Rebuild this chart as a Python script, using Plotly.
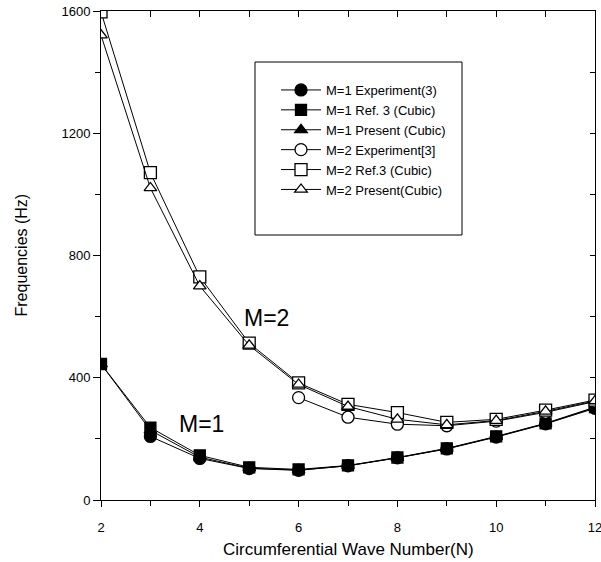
import plotly.graph_objects as go

# Circumferential wave numbers
n_all = [2, 3, 4, 5, 6, 7, 8, 9, 10, 11, 12]
n_m1_exp = [3, 4, 5, 6, 7, 8, 9, 10, 11, 12]
n_m2_exp = [6, 7, 8, 9, 10, 11, 12]

# Natural frequencies (Hz)
m1_experiment = [208, 136, 103, 97, 112, 138, 167, 206, 249, 300]
m1_ref3 = [445, 237, 146, 107, 100, 113, 139, 169, 208, 251, 304]
m1_present = [445, 228, 140, 104, 98, 112, 138, 168, 207, 250, 302]

m2_experiment = [335, 271, 248, 243, 258, 287, 322]
m2_ref3 = [1597, 1071, 730, 513, 383, 313, 286, 254, 264, 294, 327]
m2_present = [1521, 1021, 700, 506, 378, 306, 264, 246, 260, 290, 324]

legend_names = [
    "M=1 Experiment(3)",
    "M=1 Ref. 3 (Cubic)",
    "M=1 Present (Cubic)",
    "M=2 Experiment[3]",
    "M=2 Ref.3 (Cubic)",
    "M=2 Present(Cubic)",
]

series = [
    (n_m1_exp, m1_experiment, "circle", 12),
    (n_all, m1_ref3, "square", 11),
    (n_all, m1_present, "triangle-up", 11),
    (n_m2_exp, m2_experiment, "circle", 12),
    (n_all, m2_ref3, "square", 12),
    (n_all, m2_present, "triangle-up", 11),
]

fig = go.Figure()
for i, (name, (xs, ys, sym, size)) in enumerate(zip(legend_names, series)):
    filled = i < 3
    fig.add_trace(go.Scatter(
        x=xs, y=ys, name=name, mode="lines+markers",
        line=dict(color="black", width=1),
        marker=dict(
            symbol=sym, size=size,
            color="black" if filled else "white",
            line=dict(color="black", width=1.3),
        ),
    ))

font_family = "Liberation Sans, Arial, sans-serif"

W, H = 601, 562
ML, MR, MT, MB = 101, 6, 11, 62
PW, PH = W - ML - MR, H - MT - MB


def px_x(p):
    return (p - ML) / PW


def px_y(p):
    return (H - MB - p) / PH


frame = dict(showline=True, linecolor="black", linewidth=1,
             showgrid=False, zeroline=False, automargin=False)

fig.update_layout(
    width=W, height=H,
    margin=dict(l=ML, r=MR, t=MT, b=MB, autoexpand=False),
    paper_bgcolor="white", plot_bgcolor="white",
    font=dict(family=font_family, color="black", size=12),
    showlegend=True,
    legend=dict(
        x=px_x(276), y=px_y(75), xanchor="left", yanchor="top",
        borderwidth=0, bgcolor="rgba(0,0,0,0)",
        font=dict(size=13, family=font_family),
        tracegroupgap=0, itemwidth=40,
    ),
    xaxis=dict(
        range=[2, 12], tickvals=[2, 4, 6, 8, 10, 12],
        ticks="outside", ticklen=6, tickwidth=1, tickcolor="black",
        minor=dict(tickvals=[3, 5, 7, 9, 11], ticks="outside", ticklen=5, tickcolor="black"),
        tickfont=dict(size=13), ticklabelstandoff=9, ticklabeloverflow="allow",
        **frame,
    ),
    yaxis=dict(
        range=[0, 1600], tickvals=[0, 400, 800, 1200, 1600],
        ticks="outside", ticklen=7, tickwidth=1, tickcolor="black",
        minor=dict(tickvals=[200, 600, 1000, 1400], ticks="outside", ticklen=5, tickcolor="black"),
        tickfont=dict(size=13), ticklabeloverflow="allow",
        **frame,
    ),
    # Top and right frame with inward ticks
    xaxis2=dict(
        overlaying="x", side="top", range=[2, 12],
        tickvals=[2, 3, 4, 5, 6, 7, 8, 9, 10, 11, 12], ticks="inside", ticklen=6,
        tickcolor="black", showticklabels=False, **frame,
    ),
    yaxis2=dict(
        overlaying="y", side="right", range=[0, 1600],
        tickvals=[0, 200, 400, 600, 800, 1000, 1200, 1400, 1600], ticks="inside", ticklen=5,
        tickcolor="black", showticklabels=False, **frame,
    ),
    shapes=[
        dict(type="rect", xref="paper", yref="paper",
             x0=px_x(255), x1=px_x(462), y0=px_y(235), y1=px_y(62),
             line=dict(color="black", width=1), fillcolor="rgba(0,0,0,0)"),
    ],
    annotations=[
        dict(x=5.34, y=595, text="M=2", showarrow=False, xref="x", yref="y",
             font=dict(size=23, family=font_family)),
        dict(x=4.04, y=250, text="M=1", showarrow=False, xref="x", yref="y",
             font=dict(size=23, family=font_family)),
        # Axis titles
        dict(x=0.5, y=px_y(549), xref="paper", yref="paper", showarrow=False,
             text="Circumferential Wave Number(N)", font=dict(size=17, family=font_family),
             xanchor="center", yanchor="middle"),
        dict(x=px_x(21), y=0.5, xref="paper", yref="paper", showarrow=False,
             text="Frequencies (Hz)", textangle=-90, font=dict(size=16, family=font_family),
             xanchor="center", yanchor="middle"),
    ],
)

# An invisible trace on the secondary axes so they are drawn
fig.add_trace(go.Scatter(x=[2], y=[0], xaxis="x2", yaxis="y2", mode="markers",
                         marker=dict(opacity=0), showlegend=False, hoverinfo="skip"))

fig.write_html("out.html")
